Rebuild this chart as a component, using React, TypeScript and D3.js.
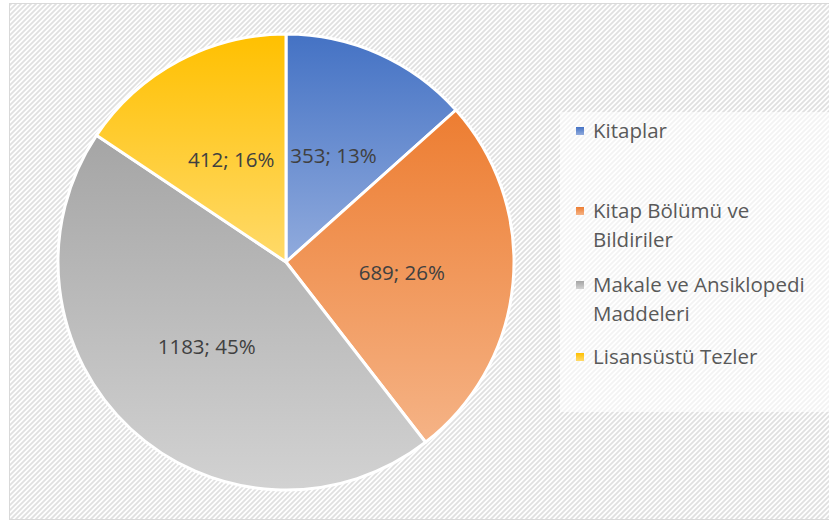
import React from "react";
import * as d3 from "d3";

const categories = ["Kitaplar", "Kitap Bölümü ve Bildiriler", "Makale ve Ansiklopedi Maddeleri", "Lisansüstü Tezler"];
const values = [353, 689, 1183, 412];
const percents = ["13%", "26%", "45%", "16%"];
const legendLines = [["Kitaplar"], ["Kitap Bölümü ve", "Bildiriler"], ["Makale ve Ansiklopedi", "Maddeleri"], ["Lisansüstü Tezler"]];
const topColors = ["#4472c4", "#ed7d31", "#a5a5a5", "#ffc000"];
const bottomColors = ["#91abdd", "#f5b386", "#d2d2d2", "#ffda6a"];

const W = 829;
const H = 522;
const cx = 286;
const cy = 262;
const R = 228;
const FONT = "'Open Sans', 'Noto Sans', sans-serif";

export default function App() {
  const pie = d3.pie<number>().sort(null).value((d) => d).startAngle(0).endAngle(2 * Math.PI);
  const arcs = pie(values);
  const arcGen = d3.arc<d3.PieArcDatum<number>>().innerRadius(0).outerRadius(R);
  const labelArc = d3.arc<d3.PieArcDatum<number>>().innerRadius(R * 0.51).outerRadius(R * 0.51);

  const legendY = [131, 211, 285, 357];
  const lineGap = 29;

  return (
    <svg width={W} height={H} style={{ position: "absolute", left: 0, top: 0 }} xmlns="http://www.w3.org/2000/svg">
      <defs>
        <pattern id="stripes" width="5" height="5" patternUnits="userSpaceOnUse">
          <rect width="5" height="5" fill="#ffffff" />
          <path d="M-1,1 L1,-1 M0,5 L5,0 M4,6 L6,4" stroke="#e0e0e0" strokeWidth="1.8" />
        </pattern>
        {topColors.map((c, i) => (
          <linearGradient key={i} id={`g${i}`} x1="0" y1="0" x2="0" y2="1">
            <stop offset="0" stopColor={c} />
            <stop offset="1" stopColor={bottomColors[i]} />
          </linearGradient>
        ))}
      </defs>
      <rect x={0} y={0} width={W} height={H} fill="#ffffff" />
      <rect x={9.5} y={3.5} width={W + 10} height={516} fill="url(#stripes)" stroke="#d9d9d9" strokeWidth={1} />
      <rect x={560} y={112} width={W - 560 + 5} height={300} fill="#ffffff" fillOpacity={0.6} />
      <g transform={`translate(${cx},${cy})`}>
        {arcs.map((a, i) => (
          <path key={i} d={arcGen(a) || ""} fill={`url(#g${i})`} stroke="#ffffff" strokeWidth={3} strokeLinejoin="round" />
        ))}
        {arcs.map((a, i) => {
          const [x, y] = labelArc.centroid(a);
          return (
            <text key={i} x={x} y={y} dy="0.35em" textAnchor="middle" fontFamily={FONT} fontSize={20.5} fill="#404040">
              {`${values[i]}; ${percents[i]}`}
            </text>
          );
        })}
      </g>
      <g>
        {legendLines.map((lines, i) => (
          <g key={i}>
            <rect x={576} y={legendY[i] - 4} width={8} height={8} fill={`url(#g${i})`} />
            {lines.map((t, j) => (
              <text key={j} x={593} y={legendY[i] + j * lineGap} dy="0.35em" fontFamily={FONT} fontSize={20.5} fill="#595959">
                {t}
              </text>
            ))}
          </g>
        ))}
      </g>
      <title>{categories.join(", ")}</title>
    </svg>
  );
}
